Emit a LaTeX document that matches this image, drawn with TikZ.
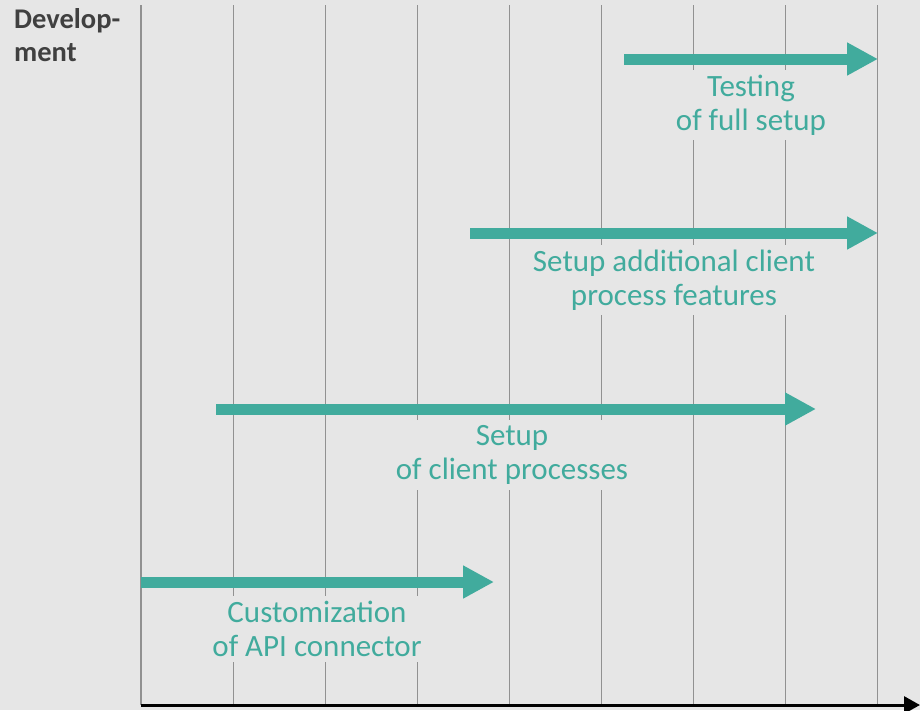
\documentclass[tikz,border=0pt]{standalone}
\usepackage{fontspec}
\setmainfont{Carlito}
\usepackage{xcolor}
\usetikzlibrary{arrows.meta, positioning}

\definecolor{paper}{RGB}{230,230,230}
\definecolor{phasegreen}{RGB}{65,171,157}
\definecolor{headgray}{RGB}{64,64,64}
\definecolor{lanegray}{RGB}{145,145,145}

\begin{document}
\begin{tikzpicture}[
  x=1pt, y=-1pt,
  lane/.style={draw=lanegray, line width=1.2pt},
  phase/.style={draw=phasegreen, line width=11pt, -{Triangle[length=31pt, width=31pt]}},
  phaselabel/.style={fill=paper, text=phasegreen, align=center, inner sep=5pt, font=\fontsize{31}{34}\selectfont},
  heading/.style={text=headgray, align=left, inner sep=0pt, font=\bfseries\fontsize{28.5}{33}\selectfont},
  axis/.style={draw=black, line width=3pt, -{Triangle[length=16pt, width=17pt]}}
]
\fill[paper] (0,0) rectangle (920,710);
\useasboundingbox (0,0) rectangle (920,710);

% time grid
\foreach \i in {0,...,8}
  \draw[lane] (141+92.1*\i,5) -- (141+92.1*\i,705);

\node[heading, anchor=north west] (dev) at (14,8) {Develop-\\ment};

% labels under the phases
\node[phaselabel] (testL) at (751,105) {Testing\\of full setup};
\node[phaselabel] (extraL) at (674,280) {Setup additional client\\process features};
\node[phaselabel] (clientL) at (512,455) {Setup\\of client processes};
\node[phaselabel] (apiL) at (317,629) {Customization\\of API connector};

% phases
\coordinate (testA) at (624,59);   \coordinate (testB) at (878,59);
\coordinate (extraA) at (470,233); \coordinate (extraB) at (878,233);
\coordinate (clientA) at (216,409); \coordinate (clientB) at (816,409);
\coordinate (apiA) at (141,582);   \coordinate (apiB) at (494,582);

\draw[phase] (testA) -- (testB);
\draw[phase] (extraA) -- (extraB);
\draw[phase] (clientA) -- (clientB);
\draw[phase] (apiA) -- (apiB);

% time axis
\coordinate (origin) at (141,705);
\coordinate (tend) at (920,705);
\draw[axis] (origin) -- (tend);
\end{tikzpicture}
\end{document}
